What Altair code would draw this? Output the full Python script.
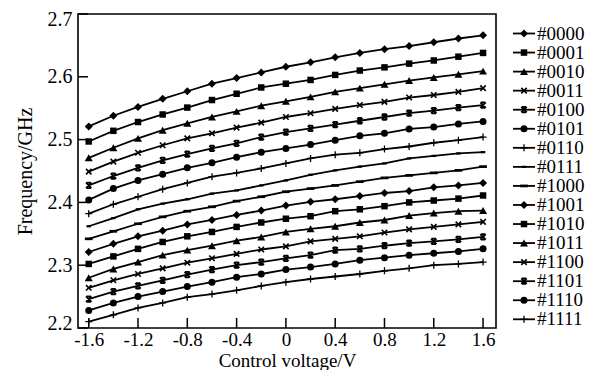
import altair as alt
import pandas as pd

voltage = [-1.6, -1.4, -1.2, -1.0, -0.8, -0.6, -0.4, -0.2, 0.0,
           0.2, 0.4, 0.6, 0.8, 1.0, 1.2, 1.4, 1.6]
codes = ["#0000", "#0001", "#0010", "#0011", "#0100", "#0101", "#0110", "#0111",
         "#1000", "#1001", "#1010", "#1011", "#1100", "#1101", "#1110", "#1111"]

f0000 = [2.521, 2.538, 2.552, 2.565, 2.577, 2.589, 2.598, 2.607, 2.616, 2.623, 2.631, 2.638, 2.644, 2.649, 2.655, 2.661, 2.666]
f0001 = [2.497, 2.514, 2.528, 2.540, 2.551, 2.563, 2.573, 2.583, 2.589, 2.595, 2.603, 2.610, 2.615, 2.621, 2.626, 2.632, 2.638]
f0010 = [2.471, 2.487, 2.502, 2.515, 2.526, 2.536, 2.545, 2.554, 2.561, 2.568, 2.576, 2.582, 2.588, 2.594, 2.599, 2.604, 2.609]
f0011 = [2.449, 2.465, 2.479, 2.491, 2.502, 2.510, 2.519, 2.527, 2.536, 2.542, 2.549, 2.555, 2.560, 2.567, 2.571, 2.576, 2.582]
f0100 = [2.427, 2.442, 2.455, 2.467, 2.477, 2.486, 2.494, 2.504, 2.512, 2.518, 2.524, 2.530, 2.536, 2.542, 2.546, 2.551, 2.555]
f0101 = [2.404, 2.422, 2.435, 2.445, 2.455, 2.463, 2.472, 2.480, 2.486, 2.492, 2.499, 2.506, 2.510, 2.517, 2.520, 2.525, 2.529]
f0110 = [2.382, 2.397, 2.409, 2.421, 2.431, 2.441, 2.447, 2.454, 2.462, 2.470, 2.476, 2.479, 2.485, 2.489, 2.495, 2.499, 2.504]
f0111 = [2.362, 2.375, 2.389, 2.398, 2.405, 2.414, 2.419, 2.427, 2.435, 2.444, 2.451, 2.457, 2.462, 2.470, 2.474, 2.478, 2.480]
f1000 = [2.342, 2.354, 2.366, 2.377, 2.386, 2.393, 2.402, 2.409, 2.417, 2.422, 2.427, 2.433, 2.439, 2.443, 2.447, 2.451, 2.457]
f1001 = [2.321, 2.334, 2.346, 2.355, 2.365, 2.372, 2.380, 2.387, 2.395, 2.401, 2.405, 2.410, 2.415, 2.418, 2.424, 2.427, 2.431]
f1010 = [2.302, 2.314, 2.326, 2.337, 2.346, 2.353, 2.361, 2.368, 2.374, 2.378, 2.386, 2.389, 2.394, 2.400, 2.403, 2.406, 2.411]
f1011 = [2.280, 2.294, 2.305, 2.316, 2.324, 2.331, 2.339, 2.345, 2.353, 2.358, 2.362, 2.368, 2.372, 2.379, 2.383, 2.386, 2.387]
f1100 = [2.264, 2.276, 2.286, 2.295, 2.304, 2.311, 2.318, 2.325, 2.330, 2.338, 2.342, 2.346, 2.352, 2.357, 2.361, 2.365, 2.369]
f1101 = [2.246, 2.258, 2.267, 2.276, 2.285, 2.293, 2.300, 2.305, 2.311, 2.316, 2.324, 2.326, 2.331, 2.335, 2.338, 2.341, 2.345]
f1110 = [2.228, 2.240, 2.250, 2.258, 2.266, 2.273, 2.281, 2.286, 2.293, 2.297, 2.302, 2.308, 2.312, 2.316, 2.319, 2.322, 2.326]
f1111 = [2.210, 2.221, 2.232, 2.240, 2.249, 2.254, 2.260, 2.267, 2.273, 2.278, 2.282, 2.286, 2.291, 2.295, 2.300, 2.302, 2.305]

series = [f0000, f0001, f0010, f0011, f0100, f0101, f0110, f0111,
          f1000, f1001, f1010, f1011, f1100, f1101, f1110, f1111]

x_ticks = [-1.6, -1.2, -0.8, -0.4, 0.0, 0.4, 0.8, 1.2, 1.6]
y_ticks = [2.2, 2.3, 2.4, 2.5, 2.6, 2.7]

# marker style per series (Excel-like marker cycle)
markers = ["diamond", "square", "triangle", "x", "star", "circle", "plus", "dash",
           "longdash", "diamond", "square", "triangle", "x", "star", "circle", "plus"]

shape_defs = {
    "diamond": dict(shape="diamond", filled=True, size=64, strokeWidth=0),
    "square": dict(shape="square", filled=True, size=42, strokeWidth=0),
    "triangle": dict(shape="triangle-up", filled=True, size=64, strokeWidth=0),
    "x": dict(shape="M-1,-1L1,1M1,-1L-1,1", filled=False, size=30, strokeWidth=1.6),
    "star": dict(shape="M-1,-1L1,1M1,-1L-1,1M-0.8,-1L0.8,-1M-0.8,1L0.8,1", filled=False, size=30, strokeWidth=1.8),
    "circle": dict(shape="circle", filled=True, size=49, strokeWidth=0),
    "plus": dict(shape="M-1,0L1,0M0,-1L0,1", filled=False, size=49, strokeWidth=1.3),
    "dash": dict(shape="M-1,-0.5L1,-0.5L1,0.5L-1,0.5Z", filled=True, size=20, strokeWidth=0),
    "longdash": dict(shape="M-1,-0.35L1,-0.35L1,0.35L-1,0.35Z", filled=True, size=60, strokeWidth=0),
}

rows = []
for code, vals, mk in zip(codes, series, markers):
    for v, f in zip(voltage, vals):
        rows.append({"code": code, "v": v, "f": f, "mk": mk})
df = pd.DataFrame(rows)
leg_df = pd.DataFrame({"code": codes, "mk": markers})
xt_df = pd.DataFrame({"v": x_ticks})
yt_df = pd.DataFrame({"f": y_ticks})

FONT = "Liberation Serif"
W, H = 418, 314

x_scale = alt.Scale(domain=[-1.687, 1.705], nice=False, zero=False)
y_scale = alt.Scale(domain=[2.2, 2.7], nice=False, zero=False)

x_axis = alt.Axis(values=x_ticks, title="Control voltage/V", grid=False, domain=False,
                  ticks=False, tickSize=0, labelPadding=2, labelFontSize=19,
                  titleFontSize=19, titleBaseline="alphabetic", titleY=38,
                  labelExpr="(datum.value < 0 ? '-' : '') + (datum.value == 0 ? '0' : format(abs(datum.value), '.1f'))")
y_axis = alt.Axis(values=y_ticks, title="Frequency/GHz", grid=False, domain=False,
                  ticks=False, tickSize=0, labelPadding=6, titlePadding=12, format=".1f",
                  labelFlush=True, labelFlushOffset=5)

X = alt.X("v:Q", scale=x_scale, axis=x_axis)
Y = alt.Y("f:Q", scale=y_scale, axis=y_axis)

base = alt.Chart(df)
lines = base.mark_line(color="black", strokeWidth=1.8).encode(
    x=X, y=Y, detail="code:N",
)


def marker_props(sd):
    props = dict(shape=sd["shape"], size=sd["size"], opacity=1)
    if sd["filled"]:
        props.update(filled=True, fill="black", stroke="black", strokeWidth=0)
    else:
        props.update(filled=False, stroke="black", strokeWidth=sd["strokeWidth"])
    return props


layers = [lines]
for mk, sd in shape_defs.items():
    layers.append(
        base.mark_point(**marker_props(sd)).encode(x=X, y=Y)
        .transform_filter(alt.datum.mk == mk)
    )

xticks = alt.Chart(xt_df).mark_rule(color="black", strokeWidth=1.5).encode(
    x=X, y=alt.value(H), y2=alt.value(H - 10),
)
yticks = alt.Chart(yt_df).mark_rule(color="black", strokeWidth=1.5).encode(
    y=Y, x=alt.value(0), x2=alt.value(10),
)
layers += [xticks, yticks]
main = alt.layer(*layers)

leg_scale = alt.Scale(type="point", domain=codes, range=[19.5, 305.3], padding=0)
LY = alt.Y("code:N", scale=leg_scale, axis=None)
leg_base = alt.Chart(leg_df)
leg_layers = [
    leg_base.mark_rule(color="black", strokeWidth=1.8).encode(
        y=LY, x=alt.value(435), x2=alt.value(457),
    )
]
for mk, sd in shape_defs.items():
    leg_layers.append(
        leg_base.mark_point(**marker_props(sd)).encode(y=LY, x=alt.value(446))
        .transform_filter(alt.datum.mk == mk)
    )
leg_layers.append(
    leg_base.mark_text(font=FONT, fontSize=19, align="left", baseline="middle", color="black").encode(
        y=LY, x=alt.value(459), text="code:N",
    )
)
legend = alt.layer(*leg_layers)

chart = alt.layer(main, legend).resolve_scale(y="independent").properties(
    width=W, height=H,
    autosize=alt.AutoSizeParams(type="none"),
    padding={"left": 70, "top": 6, "right": 106, "bottom": 42},
    background="white",
).configure_view(
    stroke="black", strokeWidth=1.6,
).configure_axis(
    labelFont=FONT, titleFont=FONT, labelFontSize=20, titleFontSize=20,
    labelColor="black", titleColor="black", titleFontWeight="normal",
)

chart.save("out.html", embed_options={"renderer": "svg", "actions": False})
